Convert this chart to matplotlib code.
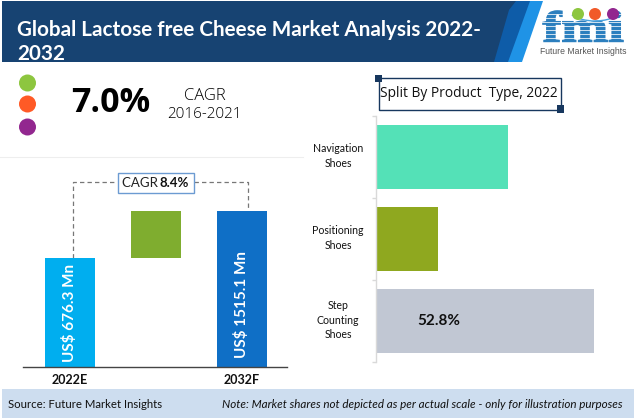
import matplotlib
matplotlib.use("Agg")
import matplotlib.pyplot as plt
from matplotlib.patches import Polygon, Rectangle, Ellipse, Arc, PathPatch
from matplotlib.textpath import TextPath
from matplotlib.font_manager import FontProperties
from matplotlib.transforms import Affine2D, ScaledTranslation

W, H = 634, 418

# Data
title_lines = ["Global Lactose free Cheese Market Analysis 2022-", "2032"]
cagr_hist = "7.0%"
cagr_hist_label = ["CAGR", "2016-2021"]
cagr_fore = "8.4%"
years = ["2022E", "", "2032F"]
# The source states that the shapes are not drawn to scale: heights are read from the picture
column_heights = [109, 47, 156]
column_bottoms = [0, 109, 0]
column_colors = ["#00AEEF", "#7FAD2F", "#0F6FC6"]
column_labels = ["US$ 676.3 Mn", None, "US$ 1515.1 Mn"]
split_title = "Split By Product  Type, 2022"
products = ["Navigation\nShoes", "Positioning\nShoes", "Step\nCounting\nShoes"]
shares = [32.0, 15.2, 52.8]
share_colors = ["#54E1B7", "#8FA81F", "#C1C7D3"]
share_labels = [None, None, "52.8%"]
source = "Source: Future Market Insights"
note = "Note: Market shares not depicted as per actual scale - only for illustration purposes"

FONT = "Lato"
plt.rcParams["font.family"] = [FONT, "DejaVu Sans"]
fig = plt.figure(figsize=(W / 100, H / 100), dpi=100, facecolor="white")


def px_axes(x0, y0, x1, y1, **kw):
    return fig.add_axes([x0 / W, 1 - y1 / H, (x1 - x0) / W, (y1 - y0) / H], **kw)


# Overlay in pixel coordinates for the infographic furniture
bg = px_axes(0, 0, W, H)
bg.set_xlim(0, W)
bg.set_ylim(H, 0)
bg.axis("off")

bg.add_patch(Polygon([[2, 1], [543, 1], [522, 62], [2, 62]], fc="#1F93E6", ec="none"))
bg.add_patch(Polygon([[2, 1], [530, 1], [508, 62], [2, 62]], fc="#0E5CA8", ec="none"))
bg.add_patch(Polygon([[2, 1], [516, 1], [509, 10], [494, 62], [2, 62]], fc="#174372", ec="none"))
for i, line in enumerate(title_lines):
    t = bg.text(17, 30 + i * 24, line, color="white", fontsize=14.9, fontweight="bold",
                va="center", ha="left")
    t.set_clip_path(Rectangle((0, 0), W, 62, transform=bg.transData))

# Logo: letters fitted to the logo's box, with white stripes across them
tp = TextPath((0, 0), "fmi", size=40, prop=FontProperties(family="Liberation Serif", weight="bold"))
bb = tp.get_extents()
lx0, lx1, ly0, ly1 = 543, 623, 11, 42
tf = (Affine2D().translate(-bb.x0, -bb.y0)
      .scale((lx1 - lx0) / bb.width, -(ly1 - ly0) / bb.height)
      .translate(lx0, ly1))
bg.add_patch(PathPatch(tp, transform=tf + bg.transData, fc="#2C7FBE", ec="#2C7FBE", lw=1.2))
for y in range(14, 44, 4):
    bg.plot([540, 627], [y, y], color="white", lw=0.6, alpha=0.9, zorder=3)
bg.add_patch(Arc((595, 4), 60, 34, theta1=25, theta2=155, ec="#4AA3DF", lw=1, zorder=4))
for cx, col in zip([578, 595, 613], ["#8DC63F", "#F15A29", "#92278F"]):
    bg.add_patch(Ellipse((cx, 14), 12, 12, fc=col, ec="none", zorder=5))
bg.text(583, 52, "Future Market Insights", color="#555555", fontsize=6.2,
        ha="center", va="center", family="Liberation Sans")

# Left summary
for cy, col in zip([83, 104, 127], ["#8DC63F", "#FF5A26", "#92278F"]):
    bg.add_patch(Ellipse((27.5, cy), 17, 17, fc=col, ec="none"))
bg.text(111, 103, cagr_hist, fontsize=24.5, fontweight="bold", color="black",
        ha="center", va="center", family="Open Sans")
bg.text(205, 96, cagr_hist_label[0], fontsize=12, fontweight=300, color="black",
        ha="center", va="center", family="Open Sans")
bg.text(204.5, 115, cagr_hist_label[1], fontsize=11, fontweight=300, color="black",
        ha="center", va="center", family="Open Sans")
bg.plot([0, 303], [156.5, 156.5], color="#EEEEEE", lw=0.8)

# CAGR connector
dash = dict(color="#777777", lw=0.9, ls=(0, (3.5, 2.5)))
bg.plot([73, 73, 117], [258, 182, 182], **dash)
bg.plot([194, 248, 248], [182, 182, 211], **dash)
bg.add_patch(Rectangle((117.5, 172.5), 76, 20, fc="white", ec="#6C9BD2", lw=1, zorder=3))
bg.text(122, 183, "CAGR ", fontsize=9.5, color="#222222", ha="left", va="center", zorder=4)
bg.text(189, 183, cagr_fore, fontsize=9.5, fontweight="bold", color="#111111",
        ha="right", va="center", zorder=4)

# Split box
bg.add_patch(Rectangle((378.5, 77.5), 182, 32, fc="white", ec="#17375E", lw=1))
bg.add_patch(Rectangle((374.5, 74.5), 7.5, 7.5, fc="#17375E", ec="none", zorder=3))
bg.add_patch(Rectangle((556.5, 105), 7.5, 7.5, fc="#17375E", ec="none", zorder=3))
bg.text(469, 93.5, split_title, fontsize=9.9, color="#111111", ha="center", va="center",
        family="Open Sans")

# Footer
bg.add_patch(Rectangle((2, 389), W - 2, 29, fc="#CDDDEF", ec="none"))
bg.text(8, 404, source, fontsize=8.2, color="#111111", ha="left", va="center")
bg.text(622, 404, note, fontsize=8.4, style="italic", color="#111111", ha="right", va="center")

# Column chart
ax = px_axes(23, 172, 287, 367, facecolor="none")
pos = [0, 1, 2]
ax.bar(pos, column_heights, bottom=column_bottoms, width=50 / 86, color=column_colors)
ax.set_xlim(-47 / 86, 217 / 86)
ax.set_ylim(0, 195)
ax.set_xticks(pos, years, fontsize=9, fontweight="bold", color="#111111")
ax.tick_params(axis="x", length=0, pad=5)
ax.set_yticks([])
for s in ["top", "left", "right"]:
    ax.spines[s].set_visible(False)
ax.spines["bottom"].set_color("#444444")
ax.spines["bottom"].set_linewidth(1)
for p, h, lab in zip(pos, column_heights, column_labels):
    if lab:
        ax.text(p, 62 if p == 2 else h / 2, lab, rotation=90, color="white", fontsize=11,
                fontweight="bold", ha="center", va="center")

# Horizontal bars
ax2 = px_axes(375.5, 116, 620, 362, facecolor="none")
ypos = [0, 1, 2]
ax2.barh(ypos, shares, height=64 / 82, color=share_colors)
ax2.set_ylim(2.5, -0.5)
ax2.set_xlim(0, 244.5 * 52.8 / 218.5)
ax2.set_xticks([])
ax2.set_yticks(ypos, products, fontsize=7.6, color="#111111", ha="center", linespacing=1.35)
ax2.tick_params(axis="y", length=0, pad=27)
ax2.set_yticks([-0.5, 0.5, 1.5, 2.5], minor=True)
ax2.tick_params(axis="y", which="minor", length=3, color="#D9D9D9", width=1)
up = ScaledTranslation(0, 3.5 / 100, fig.dpi_scale_trans)
for lbl in ax2.get_yticklabels():
    lbl.set_transform(lbl.get_transform() + up)
for s in ["top", "bottom", "right"]:
    ax2.spines[s].set_visible(False)
ax2.spines["left"].set_color("#D9D9D9")
ax2.spines["left"].set_linewidth(1)
for y, v, lab in zip(ypos, shares, share_labels):
    if lab:
        ax2.text(v * 0.2875, y, lab, fontsize=11, fontweight="bold", color="#111111",
                 ha="center", va="center")

fig.savefig("out.png", dpi=100)
